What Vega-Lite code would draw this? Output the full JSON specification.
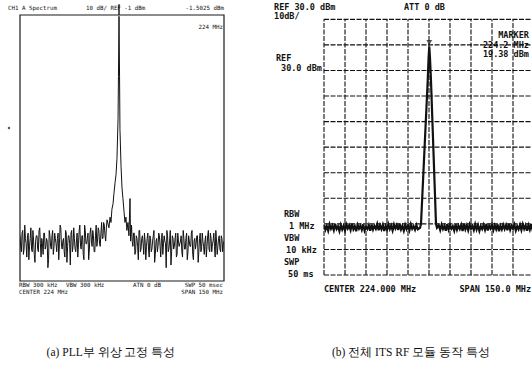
{
  "$schema": "https://vega.github.io/schema/vega-lite/v6.json",
  "padding": {"left": 7, "top": 3, "right": 0, "bottom": 0},
  "background": "white",
  "spacing": 100,
  "bounds": "flush",
  "config": {"view": {"stroke": null}},
  "datasets": {
    "pll": [
      {"f":149,"d":-84},{"f":150,"d":-90},{"f":151,"d":-82},{"f":152,"d":-89},{"f":153,"d":-85},{"f":154,"d":-92},{"f":155,"d":-83},{"f":156,"d":-88},{"f":157,"d":-81},{"f":158,"d":-90},
      {"f":159,"d":-86},{"f":160,"d":-94},{"f":161,"d":-84},{"f":162,"d":-89},{"f":163,"d":-82},{"f":164,"d":-87},{"f":165,"d":-85},{"f":166,"d":-91},{"f":167,"d":-83},{"f":168,"d":-88},
      {"f":169,"d":-86},{"f":170,"d":-93},{"f":171,"d":-84},{"f":172,"d":-89},{"f":173,"d":-82},{"f":174,"d":-88},{"f":175,"d":-85},{"f":176,"d":-90},{"f":177,"d":-83},{"f":178,"d":-87},
      {"f":179,"d":-81},{"f":180,"d":-89},{"f":181,"d":-85},{"f":182,"d":-92},{"f":183,"d":-83},{"f":184,"d":-88},{"f":185,"d":-84},{"f":186,"d":-95},{"f":187,"d":-82},{"f":188,"d":-88},
      {"f":189,"d":-85},{"f":190,"d":-90},{"f":191,"d":-83},{"f":192,"d":-87},{"f":193,"d":-80},{"f":194,"d":-89},{"f":195,"d":-84},{"f":196,"d":-93},{"f":197,"d":-82},{"f":198,"d":-87},
      {"f":199,"d":-83},{"f":200,"d":-89},{"f":201,"d":-81},{"f":202,"d":-88},{"f":203,"d":-84},{"f":204,"d":-90},{"f":205,"d":-80},{"f":206,"d":-86},{"f":207,"d":-82},{"f":208,"d":-88},
      {"f":209,"d":-79},{"f":210,"d":-85},{"f":211,"d":-80},{"f":212,"d":-86},{"f":213,"d":-78},
      {"f":149.5,"d":-88},{"f":150.5,"d":-83},{"f":151.5,"d":-91},{"f":152.5,"d":-80},{"f":153.5,"d":-87},{"f":154.5,"d":-84},{"f":155.5,"d":-93},{"f":156.5,"d":-85},{"f":157.5,"d":-89},{"f":158.5,"d":-82},
      {"f":159.5,"d":-91},{"f":160.5,"d":-86},{"f":161.5,"d":-84},{"f":162.5,"d":-90},{"f":163.5,"d":-81},{"f":164.5,"d":-92},{"f":165.5,"d":-87},{"f":166.5,"d":-83},{"f":167.5,"d":-89},{"f":168.5,"d":-85},
      {"f":169.5,"d":-96},{"f":170.5,"d":-82},{"f":171.5,"d":-88},{"f":172.5,"d":-84},{"f":173.5,"d":-91},{"f":174.5,"d":-83},{"f":175.5,"d":-87},{"f":176.5,"d":-85},{"f":177.5,"d":-93},{"f":178.5,"d":-80},
      {"f":179.5,"d":-88},{"f":180.5,"d":-86},{"f":181.5,"d":-90},{"f":182.5,"d":-82},{"f":183.5,"d":-94},{"f":184.5,"d":-84},{"f":185.5,"d":-87},{"f":186.5,"d":-83},{"f":187.5,"d":-90},{"f":188.5,"d":-81},
      {"f":189.5,"d":-89},{"f":190.5,"d":-86},{"f":191.5,"d":-92},{"f":192.5,"d":-82},{"f":193.5,"d":-88},{"f":194.5,"d":-84},{"f":195.5,"d":-91},{"f":196.5,"d":-80},{"f":197.5,"d":-87},{"f":198.5,"d":-85},
      {"f":199.5,"d":-93},{"f":200.5,"d":-83},{"f":201.5,"d":-86},{"f":202.5,"d":-82},{"f":203.5,"d":-90},{"f":204.5,"d":-84},{"f":205.5,"d":-88},{"f":206.5,"d":-81},{"f":207.5,"d":-87},{"f":208.5,"d":-83},
      {"f":209.5,"d":-85},{"f":210.5,"d":-79},{"f":211.5,"d":-84},{"f":212.5,"d":-81},
      {"f":214.4,"d":-81},{"f":215.2,"d":-77},{"f":215.9,"d":-79},{"f":216.6,"d":-74},{"f":217.4,"d":-72},{"f":218.1,"d":-68},{"f":218.9,"d":-64},{"f":219.6,"d":-61},{"f":220.3,"d":-55},{"f":221.1,"d":-40},
      {"f":221.4,"d":-24},{"f":221.8,"d":-1.5},{"f":222.2,"d":-24},{"f":222.5,"d":-44},{"f":223.3,"d":-58},{"f":224.0,"d":-66},{"f":224.7,"d":-70},{"f":225.5,"d":-75},{"f":226.2,"d":-79},{"f":226.9,"d":-77},
      {"f":227.6,"d":-82},{"f":228.4,"d":-79},{"f":229.1,"d":-84},{"f":229.9,"d":-70},{"f":230.3,"d":-86},
      {"f":231,"d":-80},{"f":232,"d":-88},{"f":233,"d":-83},{"f":234,"d":-90},{"f":235,"d":-85},{"f":236,"d":-93},{"f":237,"d":-82},{"f":238,"d":-89},{"f":239,"d":-84},{"f":240,"d":-91},
      {"f":241,"d":-86},{"f":242,"d":-88},{"f":243,"d":-83},{"f":244,"d":-92},{"f":245,"d":-85},{"f":246,"d":-89},{"f":247,"d":-84},{"f":248,"d":-94},{"f":249,"d":-86},{"f":250,"d":-90},
      {"f":251,"d":-83},{"f":252,"d":-88},{"f":253,"d":-85},{"f":254,"d":-91},{"f":255,"d":-84},{"f":256,"d":-87},{"f":257,"d":-82},{"f":258,"d":-90},{"f":259,"d":-86},{"f":260,"d":-95},
      {"f":261,"d":-84},{"f":262,"d":-89},{"f":263,"d":-85},{"f":264,"d":-92},{"f":265,"d":-83},{"f":266,"d":-88},{"f":267,"d":-86},{"f":268,"d":-90},{"f":269,"d":-82},{"f":270,"d":-89},
      {"f":271,"d":-85},{"f":272,"d":-93},{"f":273,"d":-84},{"f":274,"d":-88},{"f":275,"d":-83},{"f":276,"d":-91},{"f":277,"d":-86},{"f":278,"d":-89},{"f":279,"d":-84},{"f":280,"d":-94},
      {"f":281,"d":-85},{"f":282,"d":-90},{"f":283,"d":-83},{"f":284,"d":-88},{"f":285,"d":-86},{"f":286,"d":-92},{"f":287,"d":-84},{"f":288,"d":-89},{"f":289,"d":-83},{"f":290,"d":-90},
      {"f":291,"d":-86},{"f":292,"d":-88},{"f":293,"d":-82},{"f":294,"d":-91},{"f":295,"d":-85},{"f":296,"d":-89},{"f":297,"d":-84},{"f":298,"d":-90},{"f":299,"d":-86},
      {"f":231.5,"d":-86},{"f":232.5,"d":-83},{"f":233.5,"d":-91},{"f":234.5,"d":-84},{"f":235.5,"d":-88},{"f":236.5,"d":-82},{"f":237.5,"d":-90},{"f":238.5,"d":-85},{"f":239.5,"d":-87},{"f":240.5,"d":-83},
      {"f":241.5,"d":-93},{"f":242.5,"d":-85},{"f":243.5,"d":-89},{"f":244.5,"d":-84},{"f":245.5,"d":-90},{"f":246.5,"d":-86},{"f":247.5,"d":-82},{"f":248.5,"d":-91},{"f":249.5,"d":-85},{"f":250.5,"d":-88},
      {"f":251.5,"d":-84},{"f":252.5,"d":-92},{"f":253.5,"d":-83},{"f":254.5,"d":-87},{"f":255.5,"d":-86},{"f":256.5,"d":-96},{"f":257.5,"d":-84},{"f":258.5,"d":-89},{"f":259.5,"d":-82},{"f":260.5,"d":-90},
      {"f":261.5,"d":-85},{"f":262.5,"d":-88},{"f":263.5,"d":-83},{"f":264.5,"d":-91},{"f":265.5,"d":-86},{"f":266.5,"d":-87},{"f":267.5,"d":-84},{"f":268.5,"d":-92},{"f":269.5,"d":-85},{"f":270.5,"d":-89},
      {"f":271.5,"d":-83},{"f":272.5,"d":-90},{"f":273.5,"d":-86},{"f":274.5,"d":-88},{"f":275.5,"d":-82},{"f":276.5,"d":-93},{"f":277.5,"d":-85},{"f":278.5,"d":-87},{"f":279.5,"d":-84},{"f":280.5,"d":-90},
      {"f":281.5,"d":-83},{"f":282.5,"d":-89},{"f":283.5,"d":-86},{"f":284.5,"d":-91},{"f":285.5,"d":-84},{"f":286.5,"d":-88},{"f":287.5,"d":-82},{"f":288.5,"d":-90},{"f":289.5,"d":-85},{"f":290.5,"d":-87},
      {"f":291.5,"d":-83},{"f":292.5,"d":-92},{"f":293.5,"d":-86},{"f":294.5,"d":-88},{"f":295.5,"d":-84},{"f":296.5,"d":-90},{"f":297.5,"d":-85},{"f":298.5,"d":-87}
    ],
    "its": [
      {"f":149,"d":-50.4},{"f":150,"d":-52.3},{"f":151,"d":-50.9},{"f":152,"d":-52.7},{"f":153,"d":-50.2},{"f":154,"d":-51.9},{"f":155,"d":-50.7},{"f":156,"d":-52.5},{"f":157,"d":-50.1},{"f":158,"d":-52.0},
      {"f":159,"d":-51.0},{"f":160,"d":-52.8},{"f":161,"d":-50.5},{"f":162,"d":-52.2},{"f":163,"d":-50.8},{"f":164,"d":-52.6},{"f":165,"d":-50.3},{"f":166,"d":-51.8},{"f":167,"d":-50.6},{"f":168,"d":-52.4},
      {"f":169,"d":-50.0},{"f":170,"d":-52.1},{"f":171,"d":-50.9},{"f":172,"d":-52.9},{"f":173,"d":-50.4},{"f":174,"d":-51.9},{"f":175,"d":-50.7},{"f":176,"d":-52.3},{"f":177,"d":-50.2},{"f":178,"d":-52.6},
      {"f":179,"d":-51.1},{"f":180,"d":-52.0},{"f":181,"d":-50.5},{"f":182,"d":-52.7},{"f":183,"d":-50.3},{"f":184,"d":-52.2},{"f":185,"d":-50.8},{"f":186,"d":-51.9},{"f":187,"d":-50.1},{"f":188,"d":-52.5},
      {"f":189,"d":-50.6},{"f":190,"d":-52.1},{"f":191,"d":-50.4},{"f":192,"d":-52.8},{"f":193,"d":-50.9},{"f":194,"d":-52.3},{"f":195,"d":-50.2},{"f":196,"d":-52.0},{"f":197,"d":-50.7},{"f":198,"d":-52.6},
      {"f":199,"d":-50.3},{"f":200,"d":-51.8},{"f":201,"d":-50.5},{"f":202,"d":-52.4},{"f":203,"d":-50.0},{"f":204,"d":-52.2},{"f":205,"d":-50.8},{"f":206,"d":-52.7},{"f":207,"d":-50.4},{"f":208,"d":-52.0},
      {"f":209,"d":-50.6},{"f":210,"d":-52.5},{"f":211,"d":-50.2},{"f":212,"d":-51.9},{"f":213,"d":-50.9},{"f":214,"d":-52.3},{"f":215,"d":-50.5},{"f":216,"d":-52.1},
      {"f":217.6,"d":-51.5},{"f":218.3,"d":-50},{"f":223.1,"d":6.3},{"f":223.7,"d":15},{"f":224.2,"d":19.38},{"f":224.7,"d":15},{"f":225.4,"d":6.3},{"f":229.0,"d":-50},{"f":229.7,"d":-51.5},
      {"f":231,"d":-50.6},{"f":232,"d":-52.4},{"f":233,"d":-50.3},{"f":234,"d":-52.0},{"f":235,"d":-50.8},{"f":236,"d":-52.7},{"f":237,"d":-50.1},{"f":238,"d":-52.2},{"f":239,"d":-50.5},{"f":240,"d":-51.9},
      {"f":241,"d":-50.9},{"f":242,"d":-52.6},{"f":243,"d":-50.2},{"f":244,"d":-52.3},{"f":245,"d":-50.7},{"f":246,"d":-52.0},{"f":247,"d":-50.4},{"f":248,"d":-52.8},{"f":249,"d":-50.0},{"f":250,"d":-52.1},
      {"f":251,"d":-50.6},{"f":252,"d":-52.5},{"f":253,"d":-50.3},{"f":254,"d":-51.9},{"f":255,"d":-50.8},{"f":256,"d":-52.4},{"f":257,"d":-50.2},{"f":258,"d":-52.2},{"f":259,"d":-50.5},{"f":260,"d":-52.7},
      {"f":261,"d":-50.9},{"f":262,"d":-52.0},{"f":263,"d":-50.4},{"f":264,"d":-52.3},{"f":265,"d":-50.1},{"f":266,"d":-52.6},{"f":267,"d":-50.7},{"f":268,"d":-51.8},{"f":269,"d":-50.3},{"f":270,"d":-52.4},
      {"f":271,"d":-50.6},{"f":272,"d":-52.1},{"f":273,"d":-50.2},{"f":274,"d":-52.9},{"f":275,"d":-50.8},{"f":276,"d":-52.2},{"f":277,"d":-50.4},{"f":278,"d":-52.0},{"f":279,"d":-50.5},{"f":280,"d":-52.5},
      {"f":281,"d":-50.0},{"f":282,"d":-52.3},{"f":283,"d":-50.7},{"f":284,"d":-51.9},{"f":285,"d":-50.3},{"f":286,"d":-52.6},{"f":287,"d":-50.9},{"f":288,"d":-52.1},{"f":289,"d":-50.4},{"f":290,"d":-52.4},
      {"f":291,"d":-50.2},{"f":292,"d":-52.0},{"f":293,"d":-50.6},{"f":294,"d":-52.7},{"f":295,"d":-50.5},{"f":296,"d":-52.2},{"f":297,"d":-50.1},{"f":298,"d":-52.4},{"f":299,"d":-50.7}
    ]
  },
  "hconcat": [
    {
      "width": 204,
      "height": 266,
      "layer": [
        {
          "data": {"name": "pll"},
          "mark": {"type": "line", "color": "#111", "strokeWidth": 1, "clip": true},
          "encoding": {
            "x": {"field": "f", "type": "quantitative", "scale": {"domain": [149, 299], "nice": false, "zero": false}, "axis": null},
            "y": {"field": "d", "type": "quantitative", "scale": {"domain": [-101, -1], "nice": false, "zero": false}, "axis": null}
          }
        },
        {
          "data": {"values": [{"f0": 149, "f1": 299, "d0": -101, "d1": -1, "fm": 221.8, "dt": 3}]},
          "layer": [
            {
              "mark": {"type": "rect", "fill": null, "stroke": "#1a1a1a", "strokeWidth": 1.2},
              "encoding": {
                "x": {"field": "f0", "type": "quantitative", "axis": null},
                "x2": {"field": "f1"},
                "y": {"field": "d0", "type": "quantitative", "axis": null},
                "y2": {"field": "d1"}
              }
            },
            {
              "mark": {"type": "rule", "color": "#111", "strokeWidth": 1.4},
              "encoding": {
                "x": {"field": "fm", "type": "quantitative", "axis": null},
                "y": {"field": "d1", "type": "quantitative", "axis": null},
                "y2": {"field": "dt"}
              }
            }
          ]
        },
        {
          "data": {"values": [{"f": 140.9, "d": -43.5}]},
          "mark": {"type": "point", "filled": true, "size": 6, "color": "#111"},
          "encoding": {
            "x": {"field": "f", "type": "quantitative", "axis": null},
            "y": {"field": "d", "type": "quantitative", "axis": null}
          }
        },
        {
          "data": {"values": [
            {"f": 140.2, "d": 1.6, "t": "CH1 A Spectrum"},
            {"f": 197.5, "d": 1.6, "t": "10 dB/ REF -1 dBm"},
            {"f": 148.3, "d": -102.6, "t": "RBW 300 kHz"},
            {"f": 182.8, "d": -102.6, "t": "VBW 300 kHz"},
            {"f": 232.1, "d": -102.6, "t": "ATN 0 dB"},
            {"f": 148.3, "d": -105.3, "t": "CENTER 224 MHz"}
          ]},
          "mark": {"type": "text", "align": "left", "baseline": "middle", "font": "DejaVu Sans Mono", "fontSize": 5.8, "color": "#111"},
          "encoding": {
            "x": {"field": "f", "type": "quantitative", "axis": null},
            "y": {"field": "d", "type": "quantitative", "axis": null},
            "text": {"field": "t"}
          }
        },
        {
          "data": {"values": [
            {"f": 299, "d": 1.6, "t": "-1.5025 dBm"},
            {"f": 298.3, "d": -5.5, "t": "224 MHz"},
            {"f": 298.3, "d": -102.6, "t": "SWP 50 msec"},
            {"f": 298.3, "d": -105.3, "t": "SPAN 150 MHz"}
          ]},
          "mark": {"type": "text", "align": "right", "baseline": "middle", "font": "DejaVu Sans Mono", "fontSize": 5.8, "color": "#111"},
          "encoding": {
            "x": {"field": "f", "type": "quantitative", "axis": null},
            "y": {"field": "d", "type": "quantitative", "axis": null},
            "text": {"field": "t"}
          }
        },
        {
          "data": {"values": [{"f": 215.9, "d": -128.1, "t": "(a) PLL부 위상 고정 특성"}]},
          "mark": {"type": "text", "align": "center", "baseline": "middle", "font": "Liberation Serif", "fontSize": 11.5, "color": "#111"},
          "encoding": {
            "x": {"field": "f", "type": "quantitative", "axis": null},
            "y": {"field": "d", "type": "quantitative", "axis": null},
            "text": {"field": "t"}
          }
        }
      ]
    },
    {
      "width": 210,
      "height": 260,
      "layer": [
        {
          "data": {"values": [{"g":149},{"g":164},{"g":179},{"g":194},{"g":209},{"g":224},{"g":239},{"g":254},{"g":269},{"g":284},{"g":299}]},
          "mark": {"type": "rule", "color": "#111", "strokeWidth": 1.1, "strokeDash": [5, 1.5]},
          "encoding": {
            "x": {"field": "g", "type": "quantitative", "scale": {"domain": [149, 299], "nice": false, "zero": false}, "axis": null},
            "y": {"datum": -70, "type": "quantitative", "scale": {"domain": [-70, 31.7], "nice": false, "zero": false}, "axis": null},
            "y2": {"datum": 30}
          }
        },
        {
          "data": {"values": [{"h":-70},{"h":-60},{"h":-50},{"h":-40},{"h":-30},{"h":-20},{"h":-10},{"h":0},{"h":10},{"h":20},{"h":30}]},
          "mark": {"type": "rule", "color": "#111", "strokeWidth": 1.1, "strokeDash": [5, 1.5]},
          "encoding": {
            "y": {"field": "h", "type": "quantitative", "axis": null},
            "x": {"datum": 149, "type": "quantitative", "axis": null},
            "x2": {"datum": 299}
          }
        },
        {
          "data": {"name": "its"},
          "mark": {"type": "line", "color": "#111", "strokeWidth": 2.2, "clip": true},
          "encoding": {
            "x": {"field": "f", "type": "quantitative", "axis": null},
            "y": {"field": "d", "type": "quantitative", "axis": null}
          }
        },
        {
          "data": {"values": [{"f": 224.2, "d": 19.38}]},
          "mark": {"type": "point", "shape": "triangle-down", "filled": true, "size": 35, "color": "#111", "yOffset": -4},
          "encoding": {
            "x": {"field": "f", "type": "quantitative", "axis": null},
            "y": {"field": "d", "type": "quantitative", "axis": null}
          }
        },
        {
          "data": {"values": [
            {"f": 113.3, "d": 34.8, "t": "REF 30.0 dBm"},
            {"f": 113.3, "d": 31.2, "t": "10dB/"},
            {"f": 206.1, "d": 34.8, "t": "ATT  0 dB"},
            {"f": 114.7, "d": 14.9, "t": "REF"},
            {"f": 118.3, "d": 10.9, "t": "30.0 dBm"},
            {"f": 120.4, "d": -46.1, "t": "RBW"},
            {"f": 124.0, "d": -50.8, "t": "1 MHz"},
            {"f": 120.4, "d": -55.6, "t": "VBW"},
            {"f": 121.9, "d": -60.3, "t": "10 kHz"},
            {"f": 120.4, "d": -65.0, "t": "SWP"},
            {"f": 123.3, "d": -69.7, "t": "50 ms"},
            {"f": 149, "d": -75.5, "t": "CENTER 224.000 MHz"}
          ]},
          "mark": {"type": "text", "align": "left", "baseline": "middle", "font": "DejaVu Sans Mono", "fontSize": 8.5, "fontWeight": "bold", "color": "#111"},
          "encoding": {
            "x": {"field": "f", "type": "quantitative", "axis": null},
            "y": {"field": "d", "type": "quantitative", "axis": null},
            "text": {"field": "t"}
          }
        },
        {
          "data": {"values": [
            {"f": 295.4, "d": 23.9, "t": "MARKER"},
            {"f": 295.4, "d": 20.1, "t": "224.2 MHz"},
            {"f": 295.4, "d": 16.3, "t": "19.38 dBm"},
            {"f": 296.9, "d": -75.5, "t": "SPAN 150.0 MHz"}
          ]},
          "mark": {"type": "text", "align": "right", "baseline": "middle", "font": "DejaVu Sans Mono", "fontSize": 8.5, "fontWeight": "bold", "color": "#111"},
          "encoding": {
            "x": {"field": "f", "type": "quantitative", "axis": null},
            "y": {"field": "d", "type": "quantitative", "axis": null},
            "text": {"field": "t"}
          }
        },
        {
          "data": {"values": [{"f": 211.1, "d": -100.5, "t": "(b) 전체 ITS RF 모듈 동작 특성"}]},
          "mark": {"type": "text", "align": "center", "baseline": "middle", "font": "Liberation Serif", "fontSize": 11.5, "color": "#111"},
          "encoding": {
            "x": {"field": "f", "type": "quantitative", "axis": null},
            "y": {"field": "d", "type": "quantitative", "axis": null},
            "text": {"field": "t"}
          }
        }
      ]
    }
  ]
}
